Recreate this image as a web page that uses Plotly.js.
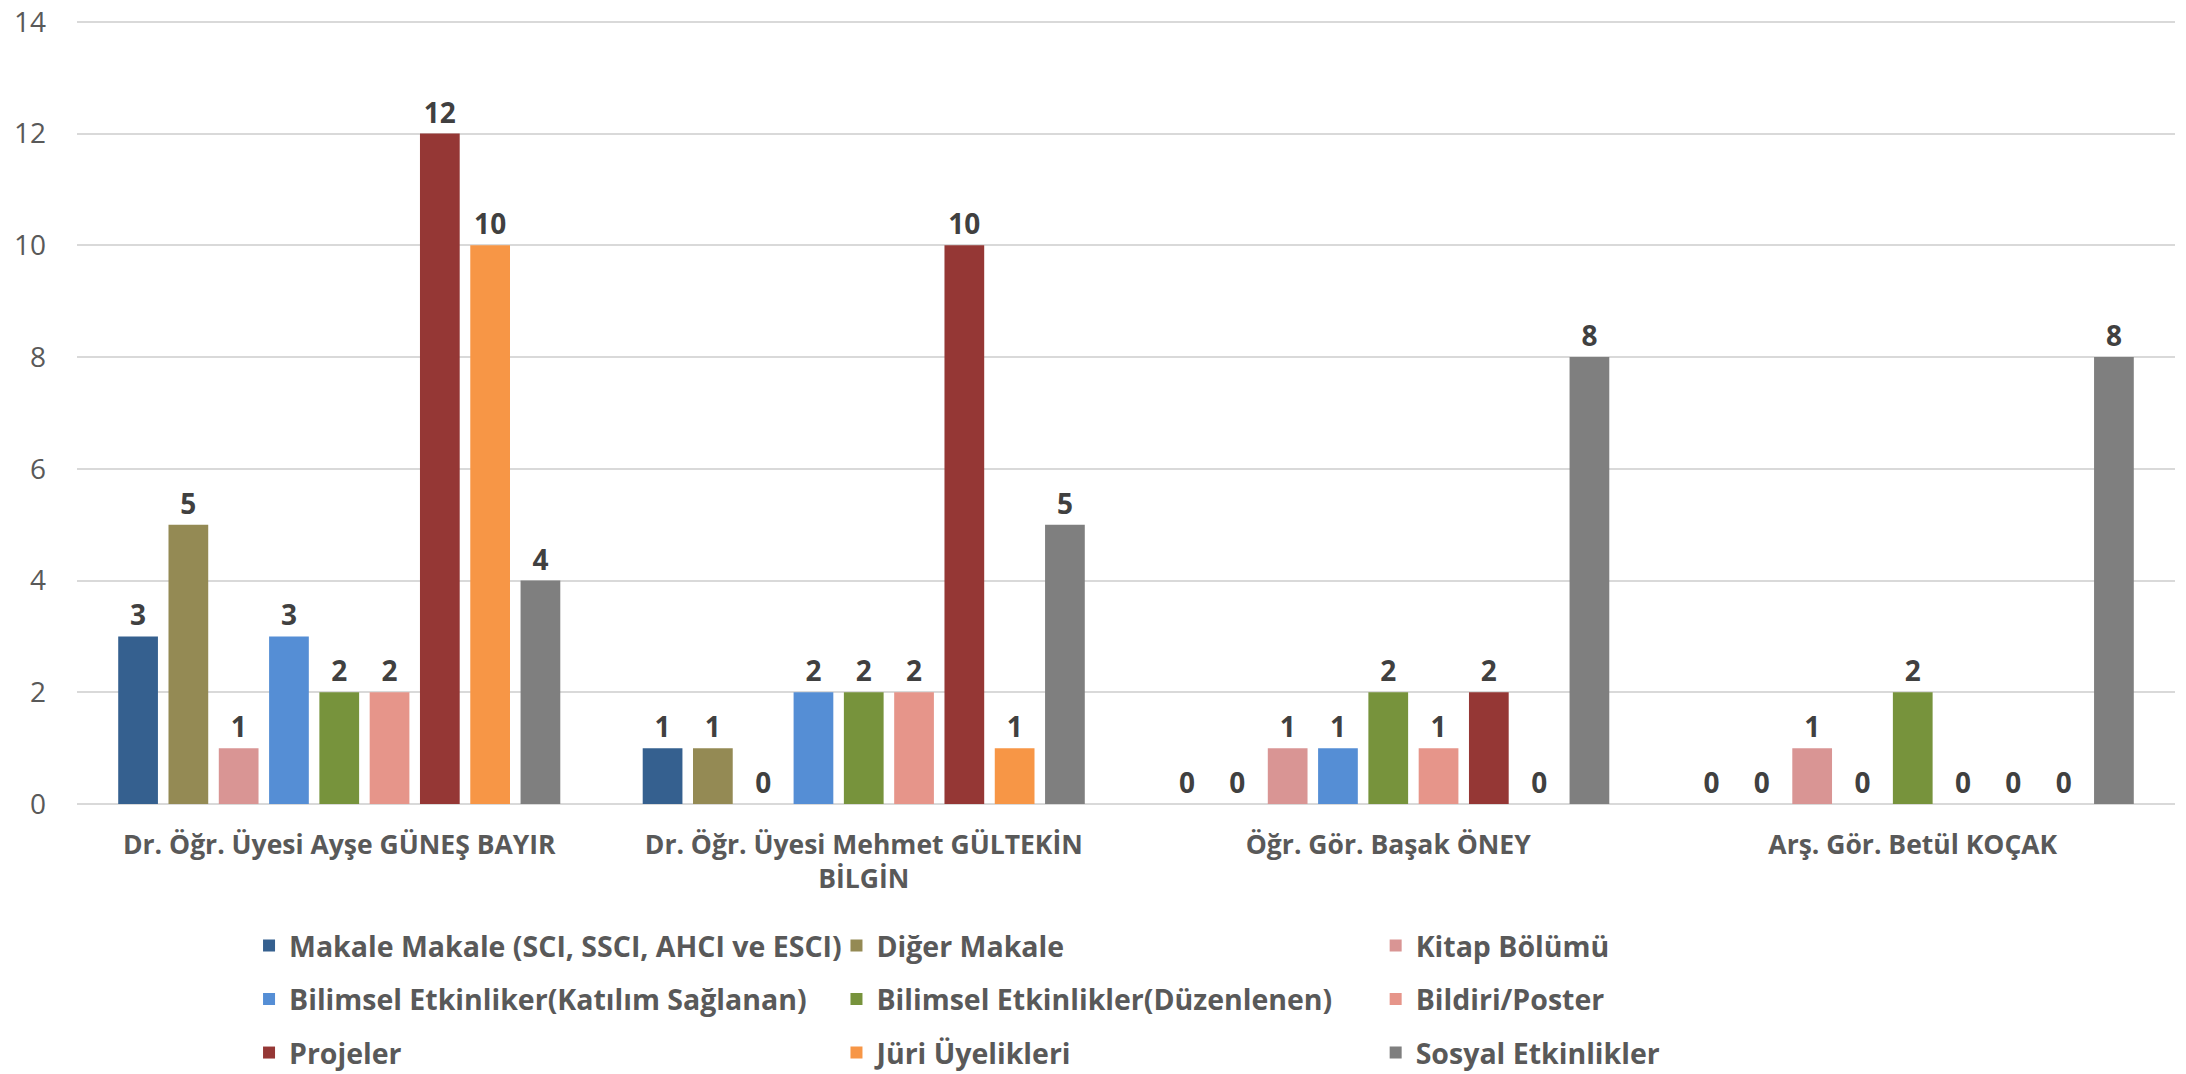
<!DOCTYPE html>
<html><head><meta charset="utf-8">
<script src="https://cdn.plot.ly/plotly-3.0.1.min.js"></script>
<style>html,body{margin:0;padding:0;background:#fff;}#chart{width:2186px;height:1074px;}</style>
</head><body><div id="chart"></div>
<script>
const categories = [
  "Dr. Öğr. Üyesi Ayşe GÜNEŞ BAYIR",
  "Dr. Öğr. Üyesi Mehmet GÜLTEKİN<br>BİLGİN",
  "Öğr. Gör. Başak ÖNEY",
  "Arş. Gör. Betül KOÇAK"
];
const seriesNames = [
  "Makale Makale (SCI, SSCI, AHCI ve ESCI)",
  "Diğer Makale",
  "Kitap Bölümü",
  "Bilimsel Etkinliker(Katılım Sağlanan)",
  "Bilimsel Etkinlikler(Düzenlenen)",
  "Bildiri/Poster",
  "Projeler",
  "Jüri Üyelikleri",
  "Sosyal Etkinlikler"
];
const makale     = [3, 1, 0, 0];
const digerMakale= [5, 1, 0, 0];
const kitap      = [1, 0, 1, 1];
const katilim    = [3, 2, 1, 0];
const duzenlenen = [2, 2, 2, 2];
const bildiri    = [2, 2, 1, 0];
const projeler   = [12, 10, 2, 0];
const juri       = [10, 1, 0, 0];
const sosyal     = [4, 5, 8, 8];
const seriesValues = [makale, digerMakale, kitap, katilim, duzenlenen, bildiri, projeler, juri, sosyal];
const yTicks = [0, 2, 4, 6, 8, 10, 12, 14];

const colors = ["#35608F", "#948A54", "#D99594", "#558ED5", "#77933C", "#E6958A", "#953735", "#F79646", "#7F7F7F"];
const legendOf = ["legend", "legend2", "legend3", "legend", "legend2", "legend3", "legend", "legend2", "legend3"];
const FONT = "'Open Sans', sans-serif";

const traces = seriesNames.map((name, i) => ({
  type: "bar",
  name: name,
  x: categories,
  y: seriesValues[i],
  marker: { color: colors[i] },
  text: seriesValues[i].map(String),
  textposition: "outside",
  cliponaxis: false,
  textfont: { family: FONT, size: 28, color: "#404040", weight: "bold" },
  legend: legendOf[i],
  legendgroup: "g" + i,
  hoverinfo: "skip"
}));

const legendBase = {
  orientation: "v",
  xref: "paper", yref: "container",
  xanchor: "left", yanchor: "top",
  bgcolor: "rgba(0,0,0,0)",
  font: { family: FONT, size: 28.5, color: "#595959", weight: "bold" },
  tracegroupgap: 13.5,
  itemwidth: 30
};

const layout = {
  width: 2186, height: 1074,
  paper_bgcolor: "#fff", plot_bgcolor: "#fff",
  margin: { l: 77, r: 11, t: 5, b: 270, autoexpand: false },
  barmode: "group",
  bargap: 0.137,
  bargroupgap: 0.21,
  showlegend: true,
  xaxis: {
    type: "category",
    tickfont: { family: FONT, size: 26.5, color: "#595959", weight: "bold" },
    showgrid: false, zeroline: false, showline: false,
    ticks: "", ticklabelstandoff: 22
  },
  yaxis: {
    range: [0, 14.3], tickvals: yTicks, ticktext: yTicks.map(String),
    tickfont: { family: FONT, size: 28, color: "#595959" },
    ticklabeloverflow: "allow",
    gridcolor: "#D9D9D9", gridwidth: 2,
    zeroline: true, zerolinecolor: "#D9D9D9", zerolinewidth: 2,
    showline: false, ticks: "", ticklabelstandoff: 30
  },
  legend:  Object.assign({}, legendBase, { x: 0.082, y: 0.143 }),
  legend2: Object.assign({}, legendBase, { x: 0.362, y: 0.143 }),
  legend3: Object.assign({}, legendBase, { x: 0.619, y: 0.143 })
};

Plotly.newPlot("chart", traces, layout, { staticPlot: true, displayModeBar: false });
</script>
</body></html>
